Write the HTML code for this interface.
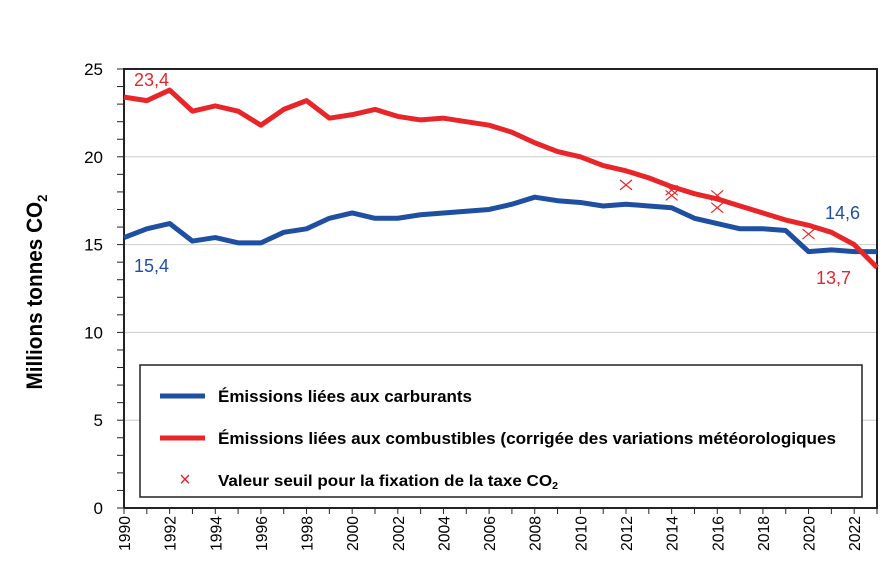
<!DOCTYPE html>
<html><head><meta charset="utf-8"><style>
body{margin:0;background:#fff;}
svg text{font-family:"Liberation Sans",Arial,sans-serif;}
</style></head><body>
<svg width="883" height="556" viewBox="0 0 883 556" id="chart">
<g id="grid"></g><g id="axes"></g><g id="series"></g>
<text x="42" y="292" transform="rotate(-90 42 292)" text-anchor="middle" font-size="22" font-weight="bold" textLength="195" lengthAdjust="spacingAndGlyphs">Millions tonnes CO<tspan font-size="14" dy="5">2</tspan></text>
<g>
<rect x="140" y="365" width="722" height="132" fill="#fff" stroke="#222" stroke-width="1.5"/>
<g><line x1="160" y1="396" x2="205" y2="396" stroke="#1f4fa0" stroke-width="5"/><text x="218" y="402" font-size="17" font-weight="bold" textLength="254" lengthAdjust="spacingAndGlyphs">Émissions liées aux carburants</text></g>
<g><line x1="160" y1="438" x2="205" y2="438" stroke="#e8262a" stroke-width="5"/><text x="218" y="444" font-size="17" font-weight="bold" textLength="618" lengthAdjust="spacingAndGlyphs">Émissions liées aux combustibles (corrigée des variations météorologiques</text></g>
<g><text x="185" y="486" font-size="20" fill="#e8262a" text-anchor="middle">×</text><text x="218" y="486" font-size="16" font-weight="bold" textLength="340" lengthAdjust="spacingAndGlyphs">Valeur seuil pour la fixation de la taxe CO<tspan font-size="10" dy="3">2</tspan></text></g>
</g>
<text x="134" y="86" font-size="18" fill="#e8262a">23,4</text>
<text x="134" y="272" font-size="18" fill="#1f4fa0">15,4</text>
<text x="825" y="219" font-size="18" fill="#1f4fa0">14,6</text>
<text x="816" y="284" font-size="18" fill="#e8262a">13,7</text>
</svg>
<script>
const years=[1990,1991,1992,1993,1994,1995,1996,1997,1998,1999,2000,2001,2002,2003,2004,2005,2006,2007,2008,2009,2010,2011,2012,2013,2014,2015,2016,2017,2018,2019,2020,2021,2022,2023];
const redValues=[23.4,23.2,23.8,22.6,22.9,22.6,21.8,22.7,23.2,22.2,22.4,22.7,22.3,22.1,22.2,22.0,21.8,21.4,20.8,20.3,20.0,19.5,19.2,18.8,18.3,17.9,17.6,17.2,16.8,16.4,16.1,15.7,15.0,13.7];
const blueValues=[15.4,15.9,16.2,15.2,15.4,15.1,15.1,15.7,15.9,16.5,16.8,16.5,16.5,16.7,16.8,16.9,17.0,17.3,17.7,17.5,17.4,17.2,17.3,17.2,17.1,16.5,16.2,15.9,15.9,15.8,14.6,14.7,14.6,14.6];
const crossYears=[2012,2014,2014,2016,2016,2020];
const crossValues=[18.4,18.1,17.8,17.8,17.1,15.6];
const yTicks=[0,5,10,15,20,25];
const xTickLabels=[1990,1992,1994,1996,1998,2000,2002,2004,2006,2008,2010,2012,2014,2016,2018,2020,2022];
const NS="http://www.w3.org/2000/svg";
const X=y=>124+(y-1990)*(877-124)/33;
const Y=v=>508-v*(508-69)/25;
function mk(tag,attrs,parent){const e=document.createElementNS(NS,tag);for(const k in attrs)e.setAttribute(k,attrs[k]);document.getElementById(parent).appendChild(e);return e;}
yTicks.forEach(t=>{
 if(t>0&&t<25){const g=mk('line',{x1:124,x2:877,y1:Y(t),y2:Y(t),stroke:'#ccc','stroke-width':1},'grid');
 
 }
 const tx=mk('text',{x:103,y:Y(t)+6,'font-size':17,'text-anchor':'end'},'axes');tx.textContent=t;
 
 
});
for(let v=0;v<=25;v++){mk('line',{x1:117,x2:124,y1:Y(v),y2:Y(v),stroke:'#222','stroke-width':1},'axes');}
for(let y=1990;y<=2023;y++){mk('line',{x1:X(y),x2:X(y),y1:508,y2:514,stroke:'#222','stroke-width':1},'axes');}
const frame=mk('path',{d:`M124 ${Y(0)}V${Y(25)}H877V${Y(0)}H124`,fill:'none',stroke:'#222','stroke-width':2},'axes');


xTickLabels.forEach(y=>{const t=mk('text',{x:0,y:0,'font-size':16,'text-anchor':'end',textLength:35,lengthAdjust:'spacingAndGlyphs',transform:`translate(${X(y)+6},516) rotate(-90)`},'axes');t.textContent=y;
 
 });
function line(vals,color,name){const p=mk('polyline',{points:vals.map((v,i)=>X(years[i])+','+Y(v)).join(' '),fill:'none',stroke:color,'stroke-width':5,'stroke-linejoin':'round'},'series');
 
 }
line(blueValues,'#1f4fa0','line-carburants');
line(redValues,'#e8262a','line-combustibles');
crossYears.forEach((y,i)=>{const cx=X(y),cy=Y(crossValues[i]);const p=mk('path',{d:`M${cx-6} ${cy-5}L${cx+6} ${cy+5}M${cx-6} ${cy+5}L${cx+6} ${cy-5}`,stroke:'#e8262a','stroke-width':1.2,fill:'none'},'series');
 
 });
</script>
</body></html>
